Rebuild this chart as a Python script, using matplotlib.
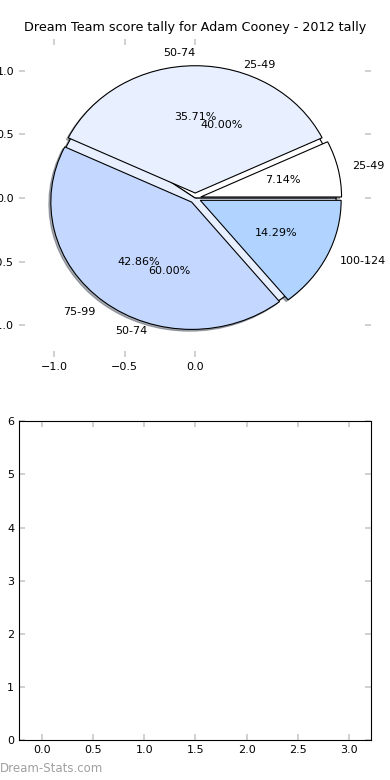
import matplotlib
matplotlib.use("Agg")
import matplotlib.pyplot as plt

# tally for the season (score brackets)
brackets = ['25-49', '50-74', '75-99', '100-124']
counts = [1, 5, 6, 2]

# second (older) tally drawn underneath
brackets_prev = ['25-49', '50-74']
counts_prev = [2, 3]

pie_colors = ['#ffffff', '#e8f0ff', '#c4d8ff', '#b0d4ff']

title = 'Dream Team score tally for Adam Cooney - 2012 tally'

fig = plt.figure(figsize=(3.9, 7.8), dpi=100)
ax = fig.add_axes([0.049, 0.542, 0.903, 0.408])
ax2 = fig.add_axes([0.049, 0.051, 0.903, 0.409])

shadow = {'ox': -0.01, 'oy': -0.01, 'shade': 0.6}
wedges2, texts2, autos2 = ax.pie(counts_prev, labels=brackets_prev, colors=pie_colors[:2],
                                 autopct='%1.2f%%', shadow=shadow,
                                 wedgeprops={'edgecolor': 'black', 'linewidth': 0.8},
                                 textprops={'fontsize': 8})
wedges, texts, autos = ax.pie(counts, labels=brackets, colors=pie_colors,
                              explode=[0.04] * 4, autopct='%1.2f%%', shadow=shadow,
                              wedgeprops={'edgecolor': 'black', 'linewidth': 0.8},
                              textprops={'fontsize': 8})
for t in autos2:
    t.set_zorder(5)

ax.set_aspect('auto')
ax.set_xlim(-1.25, 1.25)
ax.set_ylim(-1.25, 1.25)
ax.set_frame_on(False)
ax.set_xticks([-1.0, -0.5, 0.0])
ax.set_yticks([-1.0, -0.5, 0.0, 0.5, 1.0])
ax.tick_params(direction='in', color='#c8c8c8', length=4, width=1.2,
               top=True, right=True, labelsize=8)
ax.set_title(title, fontsize=9.2)

ax2.set_xlim(-0.225, 3.22)
ax2.set_ylim(0, 6)
ax2.set_xticks([0.0, 0.5, 1.0, 1.5, 2.0, 2.5, 3.0])
ax2.set_yticks(range(7))
ax2.tick_params(direction='in', color='#c8c8c8', length=4, width=1.2,
                top=True, right=True, labelsize=8)

fig.text(0.0, 0.01, 'Dream-Stats.com', color='#a0a0a0', fontsize=8.5,
         ha='left')

fig.savefig('out.png', dpi=100)
